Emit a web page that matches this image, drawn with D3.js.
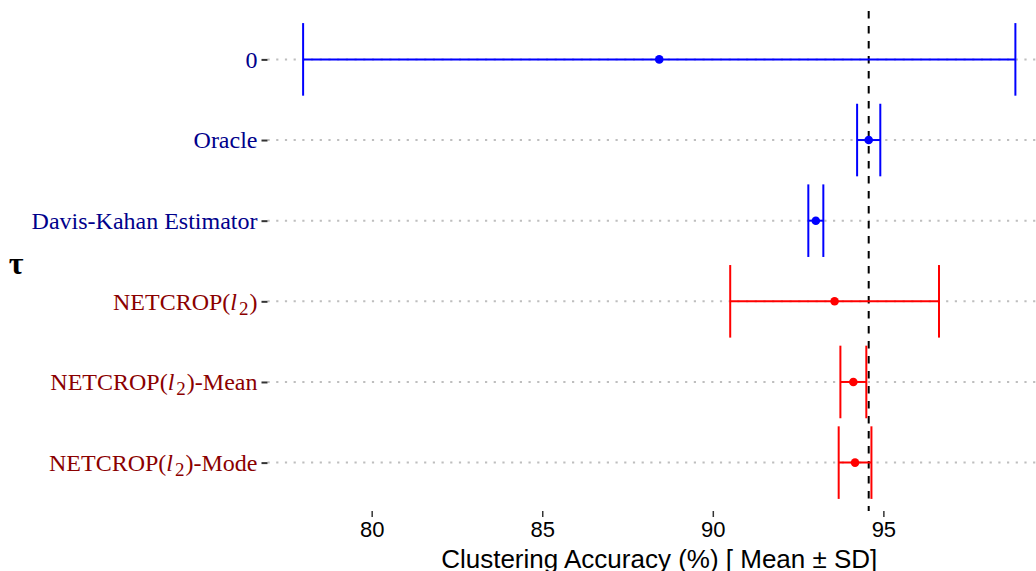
<!DOCTYPE html>
<html>
<head>
<meta charset="utf-8">
<script src="https://cdn.jsdelivr.net/npm/d3@7"></script>
<style>
	body { margin: 0; background: #fff; }
	svg { display: block; }
</style>
</head>
<body>
<script>
// values
var methods = ["0", "Oracle", "Davis-Kahan Estimator",
	"NETCROP(l2)", "NETCROP(l2)-Mean", "NETCROP(l2)-Mode"];
var groups = ["base", "base", "base", "netcrop", "netcrop", "netcrop"];
var means = [88.43, 94.57, 93.02, 93.57, 94.12, 94.17];
var sds = [10.44, 0.34, 0.22, 3.06, 0.38, 0.48];
var refLine = 94.57;
var xTicks = [80, 85, 90, 95];

var width = 1036, height = 571,
	margin = {top: 11, right: -15, bottom: 60, left: 267.5};

var svg = d3.select("body").append("svg")
	.attr("width", width)
	.attr("height", height);

var innerW = width - margin.left - margin.right,
	innerH = height - margin.top - margin.bottom;

var g = svg.append("g")
	.attr("transform", translate(margin.left, margin.top));

var lo = d3.min(means, function(d, i){return d - sds[i];}),
	hi = d3.max(means, function(d, i){return d + sds[i];}),
	pad = (hi - lo) * 0.05;

var x = d3.scaleLinear()
	.domain([lo - pad, hi + pad])
	.range([0, innerW]);

var y = d3.scalePoint()
	.domain(methods)
	.range([0, innerH])
	.padding(0.6);

var lineColor = d3.scaleOrdinal().domain(["base", "netcrop"]).range(["#0000ff", "#ff0000"]);
var labelColor = d3.scaleOrdinal().domain(["base", "netcrop"]).range(["#00008b", "#8b0000"]);

function translate(a, b)
{
	return "translate(" + a + "," + b + ")";
}

var rows = methods.map(function(m, i){
	return {name: m, group: groups[i], mean: means[i], sd: sds[i]};
});

// dotted horizontal grid
g.append("g").selectAll("line")
	.data(methods)
	.enter().append("line")
		.attr("x1", 0)
		.attr("x2", innerW)
		.attr("y1", function(d){return y(d);})
		.attr("y2", function(d){return y(d);})
		.attr("stroke", "#bebebe")
		.attr("stroke-width", 2)
		.attr("stroke-dasharray", "2.2 6.5");

// reference line
g.append("line")
	.attr("x1", x(refLine))
	.attr("x2", x(refLine))
	.attr("y1", 0)
	.attr("y2", innerH)
	.attr("stroke", "#000")
	.attr("stroke-width", 2)
	.attr("stroke-dasharray", "7.5 7.5");

// error bars
var cap = y.step() * 0.45;
var bars = g.append("g").selectAll("g")
	.data(rows)
	.enter().append("g")
		.attr("stroke", function(d){return lineColor(d.group);})
		.attr("fill", function(d){return lineColor(d.group);})
		.attr("stroke-width", 2);

bars.append("line")
	.attr("x1", function(d){return x(d.mean - d.sd);})
	.attr("x2", function(d){return x(d.mean + d.sd);})
	.attr("y1", function(d){return y(d.name);})
	.attr("y2", function(d){return y(d.name);});

[-1, 1].forEach(function(s){
	bars.append("line")
		.attr("x1", function(d){return x(d.mean + s * d.sd);})
		.attr("x2", function(d){return x(d.mean + s * d.sd);})
		.attr("y1", function(d){return y(d.name) - cap;})
		.attr("y2", function(d){return y(d.name) + cap;});
});

bars.append("circle")
	.attr("cx", function(d){return x(d.mean);})
	.attr("cy", function(d){return y(d.name);})
	.attr("r", 4.3)
	.attr("stroke", "none");

// x axis
var xAxis = g.append("g")
	.attr("transform", translate(0, innerH))
	.call(d3.axisBottom(x).tickValues(xTicks).tickSize(6).tickPadding(4));
xAxis.select(".domain").remove();
xAxis.selectAll(".tick line").attr("stroke", "#333").attr("stroke-width", 1.5);
xAxis.selectAll(".tick text")
	.attr("fill", "#000")
	.attr("font-family", "Liberation Sans, Arial, sans-serif")
	.attr("font-size", 22);

// y axis with coloured serif labels
var yAxis = g.append("g")
	.call(d3.axisLeft(y).tickSize(6).tickPadding(4).tickFormat(""));
yAxis.select(".domain").remove();
yAxis.selectAll(".tick line").attr("stroke", "#333").attr("stroke-width", 2);

yAxis.selectAll(".tick").append("text")
	.attr("x", -10)
	.attr("dy", "0.32em")
	.attr("text-anchor", "end")
	.attr("font-family", "Liberation Serif, Times New Roman, serif")
	.attr("font-size", 24)
	.attr("fill", function(d, i){return labelColor(groups[i]);})
	.each(function(d){
		var t = d3.select(this);
		var m = d.match(/^NETCROP\(l2\)(.*)$/);
		if(!m)
		{
			t.text(d);
			return;
		}
		t.append("tspan").text("NETCROP(");
		t.append("tspan").attr("font-style", "italic").text("l");
		t.append("tspan").attr("font-size", 19).attr("dx", 2).attr("dy", 5).text("2");
		t.append("tspan").attr("dx", 1).attr("dy", -5).text(")" + m[1]);
	});

// axis titles
svg.append("text")
	.attr("x", margin.left + innerW / 2)
	.attr("y", 568)
	.attr("text-anchor", "middle")
	.attr("font-family", "Liberation Sans, Arial, sans-serif")
	.attr("font-size", 26)
	.attr("fill", "#000")
	.text("Clustering Accuracy (%) [ Mean \u00b1 SD]");

svg.append("text")
	.attr("x", 16)
	.attr("y", margin.top + innerH / 2 + 3)
	.attr("dy", "0.32em")
	.attr("text-anchor", "middle")
	.attr("font-family", "Liberation Serif, Times New Roman, serif")
	.attr("font-size", 32)
	.attr("font-weight", "bold")
	.attr("fill", "#000")
	.text("\u03c4");
</script>
</body>
</html>
